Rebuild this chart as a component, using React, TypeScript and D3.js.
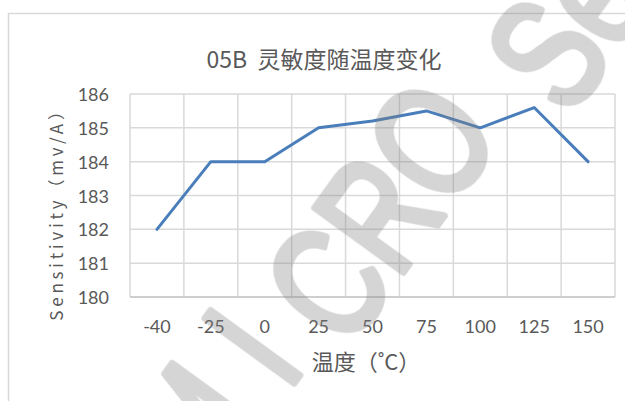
import React from "react";
import * as d3 from "d3";

const categories = ["-40", "-25", "0", "25", "50", "75", "100", "125", "150"];
const sensitivity = [182, 184, 184, 185, 185.2, 185.5, 185, 185.6, 184];
const yTicks = [180, 181, 182, 183, 184, 185, 186];
const title = "05B  灵敏度随温度变化";
const xTitle = "温度（˚C）";
const yTitle = "Sensitivity（mv/A）";

// watermark pieces: text, em advance to the reference glyph's centre, centre point
const wmPieces: { t: string; adv: number; cx: number; cy: number }[] = [
  { t: "OM I", adv: 2.028, cx: 250, cy: 345 },
  { t: "CRO", adv: 1.083, cx: 376, cy: 212 },
  { t: "Se", adv: 0.333, cx: 545, cy: 52 },
];

const W = 625;
const H = 401;
const plot = { left: 130, right: 615, top: 94, bottom: 297 };

export default function App() {
  const x = d3.scaleBand<string>().domain(categories).range([plot.left, plot.right]).padding(0);
  const y = d3.scaleLinear().domain([180, 186]).range([plot.bottom, plot.top]);
  const line = d3
    .line<number>()
    .x((_, i) => (x(categories[i]) as number) + x.bandwidth() / 2)
    .y((d) => y(d));
  const boundaries = categories.map((c) => x(c) as number).concat([plot.right]);
  const txtColor = "#595959";
  const numFont = "Lato, 'Noto Sans', sans-serif";
  const cjkFont = "'Noto Sans CJK SC', 'Noto Sans', sans-serif";
  const wmSize = 160;
  const wmAngle = -54;
  const wmSquash = 0.75;

  return (
    <svg
      width={W}
      height={H}
      viewBox={`0 0 ${W} ${H}`}
      style={{ position: "absolute", left: 0, top: 0, display: "block", background: "#fff" }}
    >
      <rect x={0} y={0} width={W} height={H} fill="#fff" />
      <rect x={8.5} y={13.5} width={W + 20} height={H + 20} fill="none" stroke="#d9d9d9" strokeWidth={1.5} />
      <text
        x={324}
        y={58}
        textAnchor="middle"
        dominantBaseline="central"
        fontFamily={cjkFont}
        fontSize={23}
        fill={txtColor}
        style={{ whiteSpace: "pre" }}
      >
        {title}
      </text>
      <g>
        {yTicks.map((t) => (
          <line key={"h" + t} x1={plot.left} x2={plot.right} y1={y(t)} y2={y(t)} stroke="#d9d9d9" strokeWidth={1.5} />
        ))}
        {boundaries.map((b, i) => (
          <line key={"v" + i} x1={b} x2={b} y1={plot.top} y2={plot.bottom} stroke="#d9d9d9" strokeWidth={1.5} />
        ))}
        <line x1={plot.left} x2={plot.right} y1={plot.bottom} y2={plot.bottom} stroke="#c9c9c9" strokeWidth={1.5} />
      </g>
      {yTicks.map((t) => (
        <text key={"yl" + t} x={109} y={y(t)} textAnchor="end" dominantBaseline="central" fontFamily={numFont} fontSize={18} fill={txtColor}>
          {t}
        </text>
      ))}
      {categories.map((c) => (
        <text
          key={"xl" + c}
          x={(x(c) as number) + x.bandwidth() / 2}
          y={326}
          textAnchor="middle"
          dominantBaseline="central"
          fontFamily={numFont}
          fontSize={18}
          fill={txtColor}
        >
          {c}
        </text>
      ))}
      <text x={366} y={360} textAnchor="middle" dominantBaseline="central" fontFamily={cjkFont} fontSize={22} fill={txtColor}>
        {xTitle}
      </text>
      <text
        transform={`translate(55,210) rotate(-90)`}
        textAnchor="middle"
        dominantBaseline="central"
        fontFamily={cjkFont}
        fontSize={17}
        letterSpacing={3.8}
        fill={txtColor}
      >
        {yTitle}
      </text>
      <path d={line(sensitivity) || ""} fill="none" stroke="#4a7ebb" strokeWidth={3} strokeLinejoin="round" strokeLinecap="round" />
      <g opacity={0.33}>
        {wmPieces.map((p, i) => (
          <text
            key={"wm" + i}
            transform={`translate(${p.cx},${p.cy}) rotate(${wmAngle}) scale(${wmSquash},1)`}
            x={-p.adv * wmSize}
            y={0.36 * wmSize}
            fontFamily="'Liberation Sans', Arial, sans-serif"
            fontSize={wmSize}
            fill="#7f7f7f"
            stroke="#7f7f7f"
            strokeWidth={7}
            strokeLinejoin="round"
            style={{ whiteSpace: "pre" }}
          >
            {p.t}
          </text>
        ))}
      </g>
    </svg>
  );
}
